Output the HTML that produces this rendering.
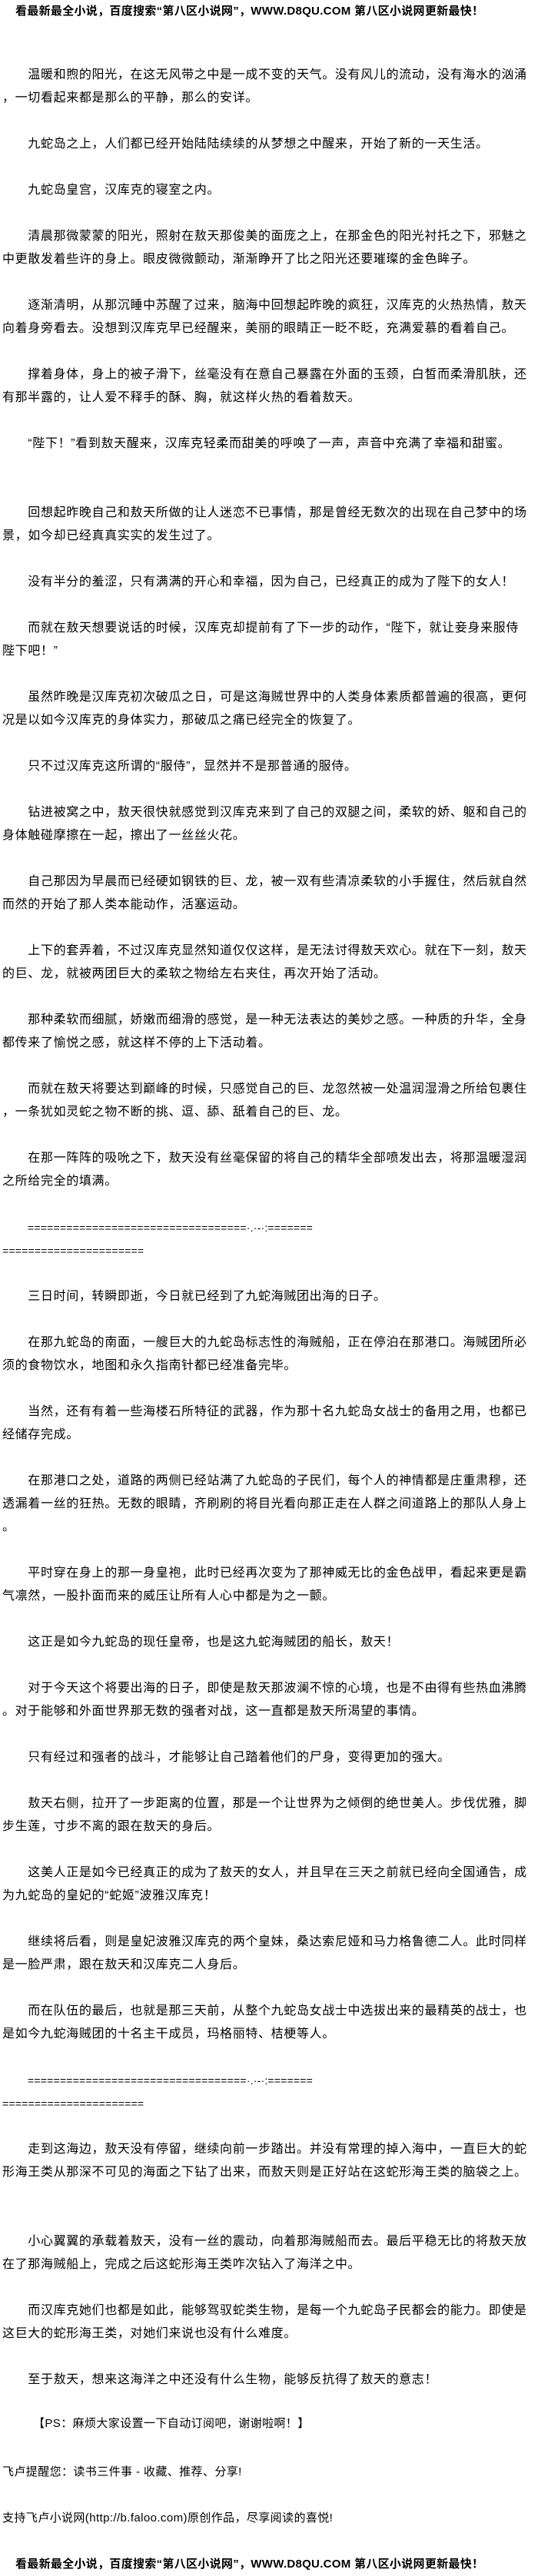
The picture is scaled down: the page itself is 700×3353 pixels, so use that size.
<!DOCTYPE html>
<html><head><meta charset="utf-8"><style>
html,body{margin:0;padding:0;background:#fff;}
body{width:700px;height:3350px;position:relative;overflow:hidden;}
.l{position:absolute;left:3px;height:30px;line-height:30px;white-space:nowrap;font-family:"Liberation Sans","Noto Sans CJK SC",sans-serif;font-size:16px;letter-spacing:0.65px;color:#000;}
.h{position:absolute;left:20px;height:30px;line-height:30px;white-space:nowrap;font-family:"Liberation Sans","Noto Sans CJK SC",sans-serif;font-size:15px;font-weight:bold;color:#000;letter-spacing:0.3px;}
.eq{font-size:14px;letter-spacing:0.2px;}
.s{font-size:15px;letter-spacing:0.4px;}
</style></head><body>
<div class="h" style="top:0px">看最新最全小说，百度搜索“第八区小说网”，WWW.D8QU.COM 第八区小说网更新最快！</div>
<div class="l" style="top:83px">　　温暖和煦的阳光，在这无风带之中是一成不变的天气。没有风儿的流动，没有海水的汹涌</div>
<div class="l" style="top:113px">，一切看起来都是那么的平静，那么的安详。</div>
<div class="l" style="top:173px">　　九蛇岛之上，人们都已经开始陆陆续续的从梦想之中醒来，开始了新的一天生活。</div>
<div class="l" style="top:233px">　　九蛇岛皇宫，汉库克的寝室之内。</div>
<div class="l" style="top:293px">　　清晨那微蒙蒙的阳光，照射在敖天那俊美的面庞之上，在那金色的阳光衬托之下，邪魅之</div>
<div class="l" style="top:323px">中更散发着些许的身上。眼皮微微颤动，渐渐睁开了比之阳光还要璀璨的金色眸子。</div>
<div class="l" style="top:383px">　　逐渐清明，从那沉睡中苏醒了过来，脑海中回想起昨晚的疯狂，汉库克的火热热情，敖天</div>
<div class="l" style="top:413px">向着身旁看去。没想到汉库克早已经醒来，美丽的眼睛正一眨不眨，充满爱慕的看着自己。</div>
<div class="l" style="top:473px">　　撑着身体，身上的被子滑下，丝毫没有在意自己暴露在外面的玉颈，白皙而柔滑肌肤，还</div>
<div class="l" style="top:503px">有那半露的，让人爱不释手的酥、胸，就这样火热的看着敖天。</div>
<div class="l" style="top:563px">　　“陛下！”看到敖天醒来，汉库克轻柔而甜美的呼唤了一声，声音中充满了幸福和甜蜜。</div>
<div class="l" style="top:653px">　　回想起昨晚自己和敖天所做的让人迷恋不已事情，那是曾经无数次的出现在自己梦中的场</div>
<div class="l" style="top:683px">景，如今却已经真真实实的发生过了。</div>
<div class="l" style="top:743px">　　没有半分的羞涩，只有满满的开心和幸福，因为自己，已经真正的成为了陛下的女人！</div>
<div class="l" style="top:803px">　　而就在敖天想要说话的时候，汉库克却提前有了下一步的动作，“陛下，就让妾身来服侍</div>
<div class="l" style="top:833px">陛下吧！”</div>
<div class="l" style="top:893px">　　虽然昨晚是汉库克初次破瓜之日，可是这海贼世界中的人类身体素质都普遍的很高，更何</div>
<div class="l" style="top:923px">况是以如今汉库克的身体实力，那破瓜之痛已经完全的恢复了。</div>
<div class="l" style="top:983px">　　只不过汉库克这所谓的“服侍”，显然并不是那普通的服侍。</div>
<div class="l" style="top:1043px">　　钻进被窝之中，敖天很快就感觉到汉库克来到了自己的双腿之间，柔软的娇、躯和自己的</div>
<div class="l" style="top:1073px">身体触碰摩擦在一起，擦出了一丝丝火花。</div>
<div class="l" style="top:1133px">　　自己那因为早晨而已经硬如钢铁的巨、龙，被一双有些清凉柔软的小手握住，然后就自然</div>
<div class="l" style="top:1163px">而然的开始了那人类本能动作，活塞运动。</div>
<div class="l" style="top:1223px">　　上下的套弄着，不过汉库克显然知道仅仅这样，是无法讨得敖天欢心。就在下一刻，敖天</div>
<div class="l" style="top:1253px">的巨、龙，就被两团巨大的柔软之物给左右夹住，再次开始了活动。</div>
<div class="l" style="top:1313px">　　那种柔软而细腻，娇嫩而细滑的感觉，是一种无法表达的美妙之感。一种质的升华，全身</div>
<div class="l" style="top:1343px">都传来了愉悦之感，就这样不停的上下活动着。</div>
<div class="l" style="top:1403px">　　而就在敖天将要达到巅峰的时候，只感觉自己的巨、龙忽然被一处温润湿滑之所给包裹住</div>
<div class="l" style="top:1433px">，一条犹如灵蛇之物不断的挑、逗、舔、舐着自己的巨、龙。</div>
<div class="l" style="top:1493px">　　在那一阵阵的吸吮之下，敖天没有丝毫保留的将自己的精华全部喷发出去，将那温暖湿润</div>
<div class="l" style="top:1523px">之所给完全的填满。</div>
<div class="l eq" style="top:1583px;left:36px">==================================·.·-·:=======</div>
<div class="l eq" style="top:1613px">======================</div>
<div class="l" style="top:1673px">　　三日时间，转瞬即逝，今日就已经到了九蛇海贼团出海的日子。</div>
<div class="l" style="top:1733px">　　在那九蛇岛的南面，一艘巨大的九蛇岛标志性的海贼船，正在停泊在那港口。海贼团所必</div>
<div class="l" style="top:1763px">须的食物饮水，地图和永久指南针都已经准备完毕。</div>
<div class="l" style="top:1823px">　　当然，还有有着一些海楼石所特征的武器，作为那十名九蛇岛女战士的备用之用，也都已</div>
<div class="l" style="top:1853px">经储存完成。</div>
<div class="l" style="top:1913px">　　在那港口之处，道路的两侧已经站满了九蛇岛的子民们，每个人的神情都是庄重肃穆，还</div>
<div class="l" style="top:1943px">透漏着一丝的狂热。无数的眼睛，齐刷刷的将目光看向那正走在人群之间道路上的那队人身上</div>
<div class="l" style="top:1973px">。</div>
<div class="l" style="top:2033px">　　平时穿在身上的那一身皇袍，此时已经再次变为了那神威无比的金色战甲，看起来更是霸</div>
<div class="l" style="top:2063px">气凛然，一股扑面而来的威压让所有人心中都是为之一颤。</div>
<div class="l" style="top:2123px">　　这正是如今九蛇岛的现任皇帝，也是这九蛇海贼团的船长，敖天！</div>
<div class="l" style="top:2183px">　　对于今天这个将要出海的日子，即使是敖天那波澜不惊的心境，也是不由得有些热血沸腾</div>
<div class="l" style="top:2213px">。对于能够和外面世界那无数的强者对战，这一直都是敖天所渴望的事情。</div>
<div class="l" style="top:2273px">　　只有经过和强者的战斗，才能够让自己踏着他们的尸身，变得更加的强大。</div>
<div class="l" style="top:2333px">　　敖天右侧，拉开了一步距离的位置，那是一个让世界为之倾倒的绝世美人。步伐优雅，脚</div>
<div class="l" style="top:2363px">步生莲，寸步不离的跟在敖天的身后。</div>
<div class="l" style="top:2423px">　　这美人正是如今已经真正的成为了敖天的女人，并且早在三天之前就已经向全国通告，成</div>
<div class="l" style="top:2453px">为九蛇岛的皇妃的“蛇姬”波雅汉库克！</div>
<div class="l" style="top:2513px">　　继续将后看，则是皇妃波雅汉库克的两个皇妹，桑达索尼娅和马力格鲁德二人。此时同样</div>
<div class="l" style="top:2543px">是一脸严肃，跟在敖天和汉库克二人身后。</div>
<div class="l" style="top:2603px">　　而在队伍的最后，也就是那三天前，从整个九蛇岛女战士中选拔出来的最精英的战士，也</div>
<div class="l" style="top:2633px">是如今九蛇海贼团的十名主干成员，玛格丽特、桔梗等人。</div>
<div class="l eq" style="top:2693px;left:36px">==================================·.·-·:=======</div>
<div class="l eq" style="top:2723px">======================</div>
<div class="l" style="top:2783px">　　走到这海边，敖天没有停留，继续向前一步踏出。并没有常理的掉入海中，一直巨大的蛇</div>
<div class="l" style="top:2813px">形海王类从那深不可见的海面之下钻了出来，而敖天则是正好站在这蛇形海王类的脑袋之上。</div>
<div class="l" style="top:2903px">　　小心翼翼的承载着敖天，没有一丝的震动，向着那海贼船而去。最后平稳无比的将敖天放</div>
<div class="l" style="top:2933px">在了那海贼船上，完成之后这蛇形海王类咋次钻入了海洋之中。</div>
<div class="l" style="top:2993px">　　而汉库克她们也都是如此，能够驾驭蛇类生物，是每一个九蛇岛子民都会的能力。即使是</div>
<div class="l" style="top:3023px">这巨大的蛇形海王类，对她们来说也没有什么难度。</div>
<div class="l" style="top:3083px">　　至于敖天，想来这海洋之中还没有什么生物，能够反抗得了敖天的意志！</div>
<div class="l s" style="top:3140px;left:43px">【PS：麻烦大家设置一下自动订阅吧，谢谢啦啊！】</div>
<div class="l s" style="top:3203px">飞卢提醒您：读书三件事 - 收藏、推荐、分享!</div>
<div class="l s" style="top:3263px">支持飞卢小说网(http://b.faloo.com)原创作品，尽享阅读的喜悦!</div>
<div class="h" style="top:3323px">看最新最全小说，百度搜索“第八区小说网”，WWW.D8QU.COM 第八区小说网更新最快！</div>
</body></html>
